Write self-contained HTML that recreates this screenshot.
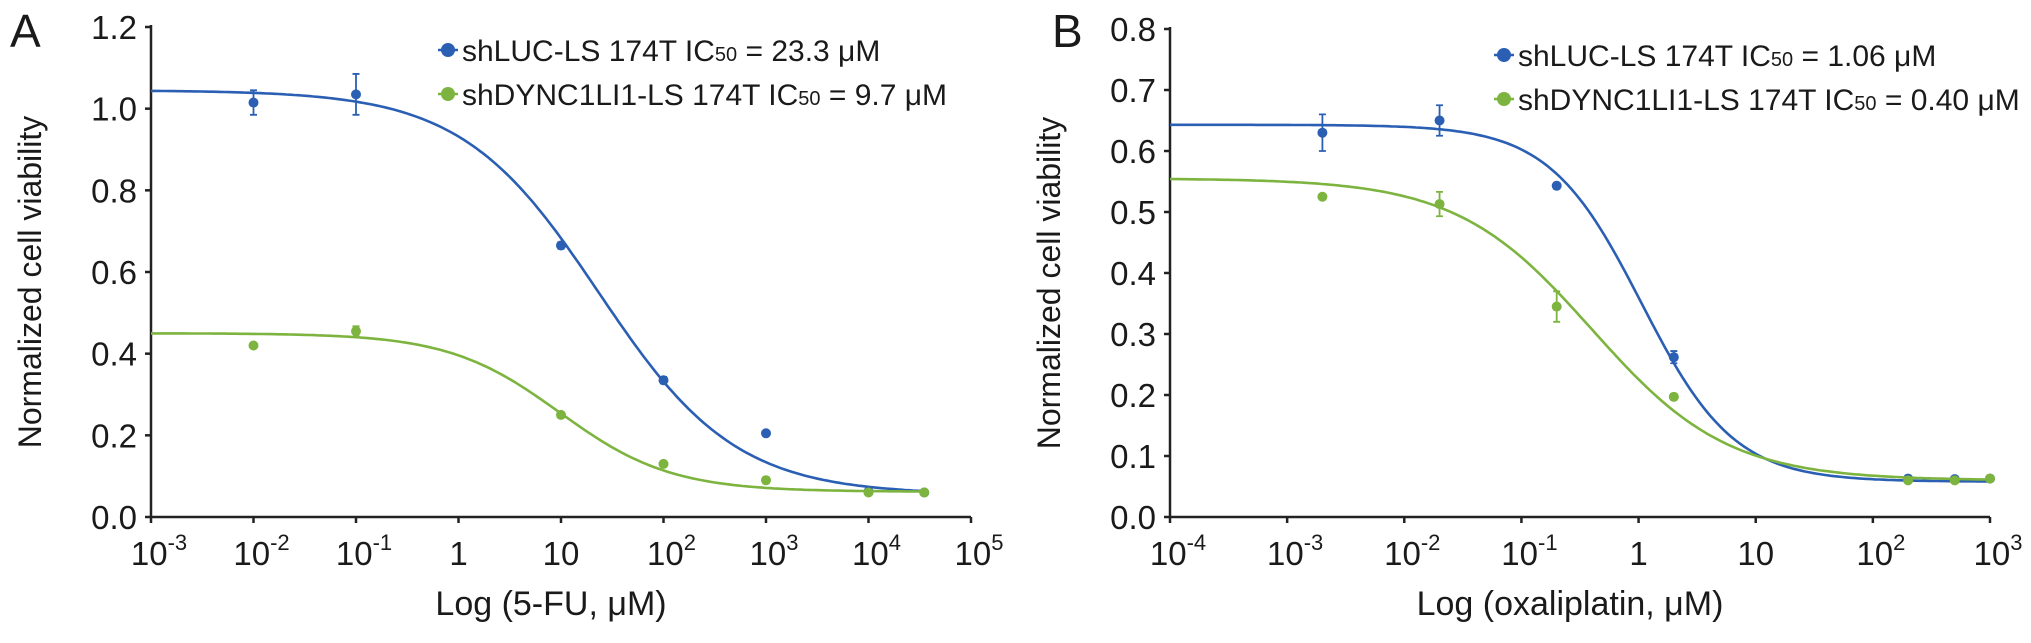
<!DOCTYPE html>
<html><head><meta charset="utf-8"><style>
body{margin:0;background:#fff;width:2031px;height:638px;overflow:hidden}
svg text{font-family:"Liberation Sans",Arial,sans-serif;fill:#1a1a1a}
</style></head><body>
<svg id="chart" width="2031" height="638" xmlns="http://www.w3.org/2000/svg"></svg>
<script>
// Panel A data (5-FU)
const aDoses = [0.01, 0.1, 10, 100, 1000, 10000, 35000];
const aBlue = [1.015, 1.035, 0.665, 0.335, 0.205, 0.062, 0.06];
const aBlueErr = [0.03, 0.05, 0.008, 0.008, 0.006, 0.004, 0.004];
const aGreen = [0.42, 0.455, 0.25, 0.13, 0.09, 0.06, 0.06];
const aGreenErr = [0.006, 0.012, 0.006, 0.006, 0.008, 0.006, 0.004];
const aBlueFit = [1.045, 0.055, 23.3, 0.65];   // top, bottom, IC50, hill
const aGreenFit = [0.45, 0.062, 9.7, 0.8];
const aYTicks = ["0.0","0.2","0.4","0.6","0.8","1.0","1.2"];
const aXExp = [-3,-2,-1,0,1,2,3,4,5];
// Panel B data (oxaliplatin)
const bDoses = [0.002, 0.02, 0.2, 2, 200, 500, 1000];
const bBlue = [0.63, 0.65, 0.543, 0.262, 0.063, 0.062, 0.063];
const bBlueErr = [0.03, 0.025, 0.005, 0.01, 0.004, 0.004, 0.004];
const bGreen = [0.525, 0.513, 0.345, 0.197, 0.06, 0.06, 0.063];
const bGreenErr = [0.004, 0.02, 0.025, 0.005, 0.004, 0.004, 0.004];
const bBlueFit = [0.643, 0.058, 1.06, 1.1];
const bGreenFit = [0.555, 0.06, 0.40, 0.75];
const bYTicks = ["0.0","0.1","0.2","0.3","0.4","0.5","0.6","0.7","0.8"];
const bXExp = [-4,-3,-2,-1,0,1,2,3];

const NS="http://www.w3.org/2000/svg";
const svg=document.getElementById('chart');
const BLUE="#2b5fb3", GREEN="#7db43f";
function mk(tag,attrs,parent){const e=document.createElementNS(NS,tag);for(const k in attrs)e.setAttribute(k,attrs[k]);(parent||svg).appendChild(e);return e;}

function panel(cfg){
  const g=mk('g',{});
  
  
  const lx0=cfg.xExp[0], lx1=cfg.xExp[cfg.xExp.length-1];
  const X=v=>cfg.x0+(Math.log10(v)-lx0)/(lx1-lx0)*(cfg.x1-cfg.x0);
  const Y=v=>cfg.y0-v/cfg.ymax*(cfg.y0-cfg.y1);
  const ax=mk('path',{d:`M${cfg.x0},${cfg.y1-2}V${cfg.y0}H${cfg.x1}`,stroke:'#222','stroke-width':2.5,fill:'none'},g);
  
  
  cfg.yTicks.forEach(t=>{
    const y=Y(parseFloat(t));
    mk('line',{x1:cfg.x0-6,x2:cfg.x0,y1:y,y2:y,stroke:'#222','stroke-width':2.5},g);
    const tx=mk('text',{x:cfg.x0-14,y:y+12,'text-anchor':'end','font-size':33},g);
    tx.textContent=t;
    
    
  });
  cfg.xExp.forEach(e=>{
    const x=X(Math.pow(10,e));
    mk('line',{x1:x,x2:x,y1:cfg.y0,y2:cfg.y0+6,stroke:'#222','stroke-width':2.5},g);
    const tx=mk('text',{x:x+(e>1||e<0?8:0),y:cfg.y0+48,'text-anchor':'middle','font-size':33},g);
    
    
    if(e===0) tx.textContent='1';
    else if(e===1) tx.textContent='10';
    else { tx.textContent='10'; const s=mk('tspan',{dy:-15,'font-size':22},tx); s.textContent=String(e); }
  });
  const xt=mk('text',{x:(cfg.x0+cfg.x1)/2-10,y:cfg.y0+98,'text-anchor':'middle','font-size':34},g);
  xt.textContent=cfg.xTitle;
  
  
  const yt=mk('text',{x:0,y:0,'text-anchor':'middle','font-size':32,transform:`translate(${cfg.x0-110},${(cfg.y0+cfg.y1)/2+10}) rotate(-90)`},g);
  yt.textContent='Normalized cell viability';
  
  
  const pl=mk('text',{x:cfg.labelX,y:47,'font-size':46},g);
  pl.textContent=cfg.label;
  
  
  cfg.series.forEach(s=>{
    const [top,bot,ic,h]=s.fit;
    let d='';
    const n=200, a=lx0, b=Math.log10(cfg.fitEnd);
    for(let i=0;i<=n;i++){const lx=a+(b-a)*i/n;const v=bot+(top-bot)/(1+Math.pow(Math.pow(10,lx)/ic,h));d+=(i?'L':'M')+X(Math.pow(10,lx)).toFixed(1)+','+Y(v).toFixed(1);}
    const c=mk('path',{d:d,stroke:s.color,'stroke-width':2.6,fill:'none'},g);
    
    
    cfg.doses.forEach((dv,i)=>{
      const x=X(dv),y=Y(s.vals[i]),e=s.err[i];
      const eb=mk('path',{d:`M${x},${Y(s.vals[i]+e)}V${Y(s.vals[i]-e)}M${x-3.5},${Y(s.vals[i]+e)}h7M${x-3.5},${Y(s.vals[i]-e)}h7`,stroke:s.color,'stroke-width':1.8,fill:'none'},g);
      
      
      const p=mk('circle',{cx:x,cy:y,r:5,fill:s.color},g);
      
      
    });
    const lg=mk('g',{},g);
    
    
    mk('line',{x1:cfg.legX-10,x2:cfg.legX+10,y1:s.legY,y2:s.legY,stroke:s.color,'stroke-width':2.5},lg);
    mk('circle',{cx:cfg.legX,cy:s.legY,r:7,fill:s.color},lg);
    const lt=mk('text',{x:cfg.legX+14,y:s.legY+11,'font-size':30},lg);
    lt.appendChild(document.createTextNode(s.legend[0]));
    const sub=mk('tspan',{'font-size':20},lt); sub.textContent='50';
    lt.appendChild(document.createTextNode(s.legend[1]));
  });
}
panel({name:'panel-a-5fu',label:'A',labelX:10,x0:151,x1:971,y0:517,y1:27,ymax:1.2,xExp:aXExp,yTicks:aYTicks,
  xTitle:'Log (5-FU, μM)',doses:aDoses,fitEnd:35000,legX:448,
  series:[{key:'shluc',color:BLUE,vals:aBlue,err:aBlueErr,fit:aBlueFit,legY:50,legend:['shLUC-LS 174T IC',' = 23.3 μM']},
          {key:'shdync1li1',color:GREEN,vals:aGreen,err:aGreenErr,fit:aGreenFit,legY:94,legend:['shDYNC1LI1-LS 174T IC',' = 9.7 μM']}]});
panel({name:'panel-b-oxaliplatin',label:'B',labelX:1052,x0:1170,x1:1990,y0:517,y1:29,ymax:0.8,xExp:bXExp,yTicks:bYTicks,
  xTitle:'Log (oxaliplatin, μM)',doses:bDoses,fitEnd:1000,legX:1504,
  series:[{key:'shluc',color:BLUE,vals:bBlue,err:bBlueErr,fit:bBlueFit,legY:55,legend:['shLUC-LS 174T IC',' = 1.06 μM']},
          {key:'shdync1li1',color:GREEN,vals:bGreen,err:bGreenErr,fit:bGreenFit,legY:99,legend:['shDYNC1LI1-LS 174T IC',' = 0.40 μM']}]});
</script>
</body></html>
